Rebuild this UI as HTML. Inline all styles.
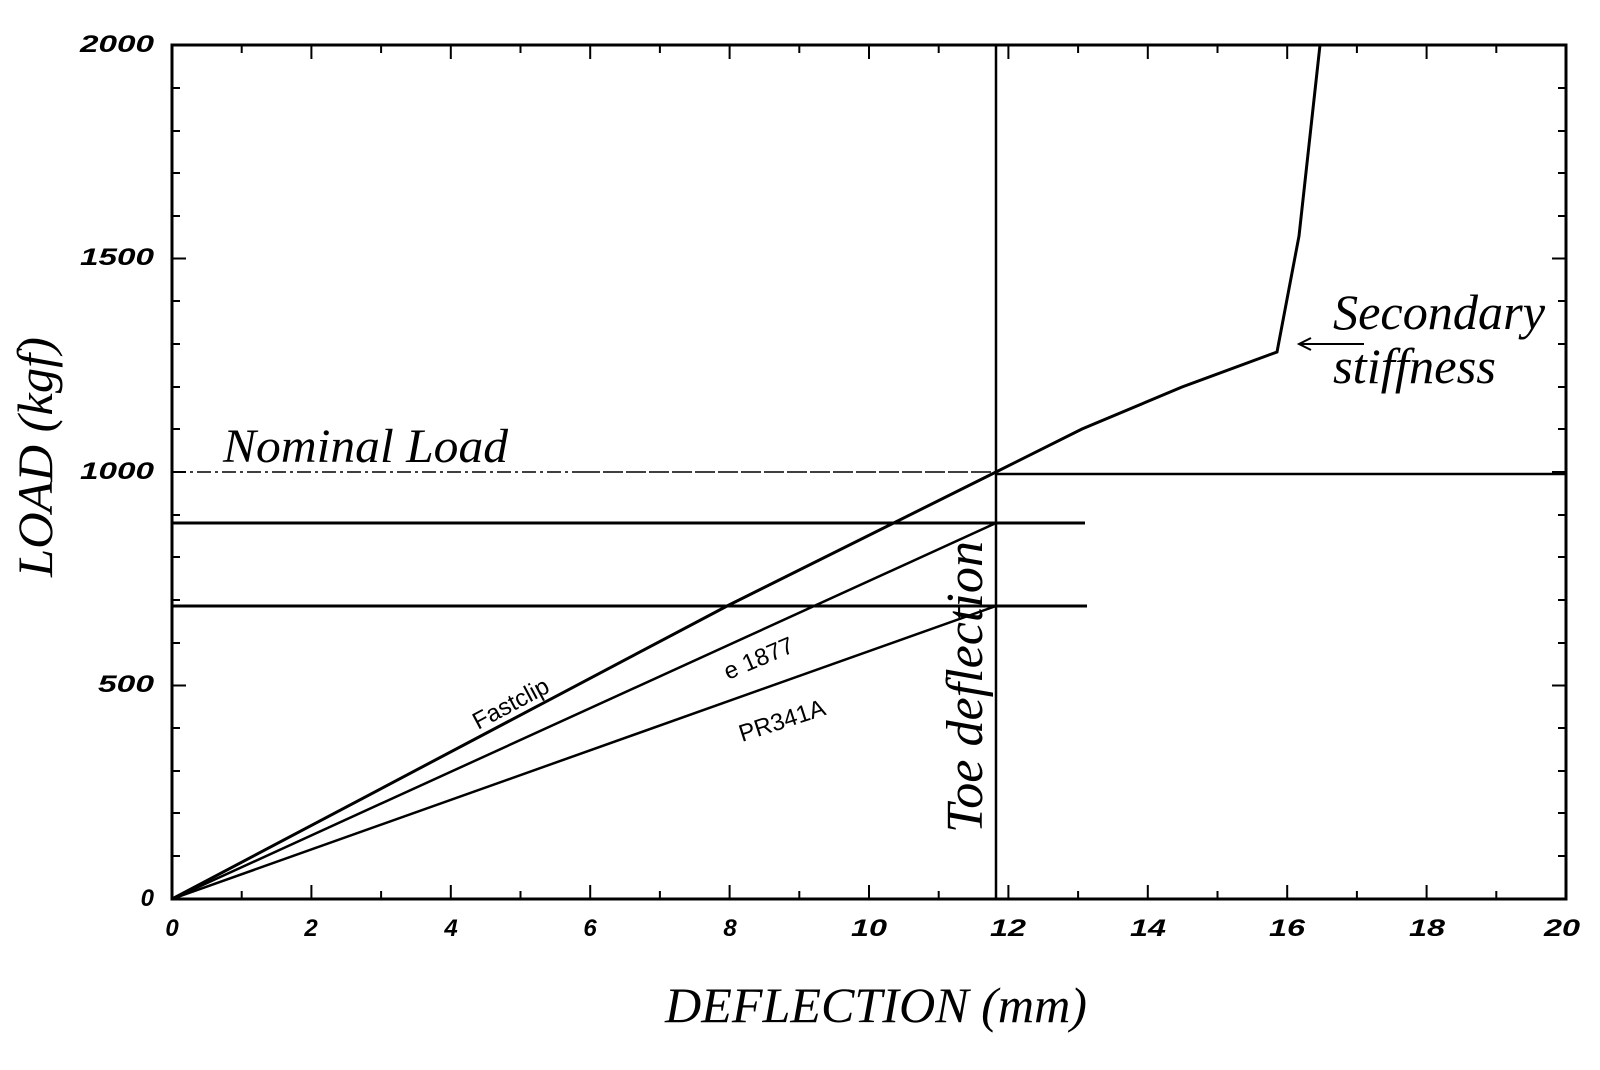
<!DOCTYPE html>
<html><head><meta charset="utf-8"><style>body{margin:0;background:#fff}svg{display:block}</style></head>
<body>
<svg width="1600" height="1070" viewBox="0 0 1600 1070" xmlns="http://www.w3.org/2000/svg">
<rect width="1600" height="1070" fill="#fff"/>
<g stroke="#000" fill="none">
<rect x="172" y="45" width="1394" height="854" stroke-width="3"/>
<g stroke-width="2">
<path d="M311.4 899v-14M450.8 899v-14M590.2 899v-14M729.6 899v-14M869 899v-14M1008.4 899v-14M1147.8 899v-14M1287.2 899v-14M1426.6 899v-14
M241.7 899v-8M381.1 899v-8M520.5 899v-8M659.9 899v-8M799.3 899v-8M938.7 899v-8M1078.1 899v-8M1217.5 899v-8M1356.9 899v-8M1496.3 899v-8
M311.4 45v14M450.8 45v14M590.2 45v14M729.6 45v14M869 45v14M1008.4 45v14M1147.8 45v14M1287.2 45v14M1426.6 45v14
M241.7 45v8M381.1 45v8M520.5 45v8M659.9 45v8M799.3 45v8M938.7 45v8M1078.1 45v8M1217.5 45v8M1356.9 45v8M1496.3 45v8"/>
<path d="M172 685.5h14M172 472h14M172 258.5h14
M172 856h8M172 813h8M172 771h8M172 728h8M172 643h8M172 600h8M172 557h8M172 515h8M172 429h8M172 387h8M172 344h8M172 301h8M172 216h8M172 173h8M172 131h8M172 88h8
M1566 685.5h-14M1566 472h-14M1566 258.5h-14
M1566 856h-8M1566 813h-8M1566 771h-8M1566 728h-8M1566 643h-8M1566 600h-8M1566 557h-8M1566 515h-8M1566 429h-8M1566 387h-8M1566 344h-8M1566 301h-8M1566 216h-8M1566 173h-8M1566 131h-8M1566 88h-8"/>
</g>
<path d="M172 472H580" stroke-width="1.5" stroke-dasharray="14 4 3 4"/>
<path d="M580 472H996" stroke-width="1.5" stroke-dasharray="20 3"/>
<path d="M996 474H1566" stroke-width="2.5"/>
<path d="M172 523H1085M172 606H1087" stroke-width="3"/>
<path d="M996 45V899" stroke-width="2.5"/>
<path d="M172 899L729 605L996 472L1082 429L1182 387L1277 352L1299 236L1320 45" stroke-width="3"/>
<path d="M172 899L996 523" stroke-width="2.5"/>
<path d="M172 899L996 606" stroke-width="2.5"/>
<path d="M1299 344H1364M1311 338L1299 344L1311 350" stroke-width="2"/>
</g>
<g font-family="Liberation Sans, sans-serif" font-style="italic" font-weight="bold" font-size="24" fill="#000">
<g text-anchor="middle">
<text x="172" y="936">0</text><text x="311" y="936">2</text><text x="451" y="936">4</text><text x="590" y="936">6</text><text x="730" y="936">8</text><text x="869" y="936" textLength="36" lengthAdjust="spacingAndGlyphs">10</text><text x="1008" y="936" textLength="36" lengthAdjust="spacingAndGlyphs">12</text><text x="1148" y="936" textLength="36" lengthAdjust="spacingAndGlyphs">14</text><text x="1287" y="936" textLength="36" lengthAdjust="spacingAndGlyphs">16</text><text x="1427" y="936" textLength="36" lengthAdjust="spacingAndGlyphs">18</text><text x="1562" y="936" textLength="36" lengthAdjust="spacingAndGlyphs">20</text>
</g>
<g text-anchor="end">
<text x="154" y="906">0</text><text x="154" y="692" textLength="56" lengthAdjust="spacingAndGlyphs">500</text><text x="154" y="479" textLength="74" lengthAdjust="spacingAndGlyphs">1000</text><text x="154" y="265" textLength="74" lengthAdjust="spacingAndGlyphs">1500</text><text x="154" y="52" textLength="74" lengthAdjust="spacingAndGlyphs">2000</text>
</g>
<g font-weight="normal" font-style="normal" font-size="24">
<text transform="translate(478 730) rotate(-28)">Fastclip</text>
<text transform="translate(728 680) rotate(-23)">e 1877</text>
<text transform="translate(742 742) rotate(-18)">PR341A</text>
</g>
</g>
<g font-family="Liberation Serif, serif" font-style="italic" fill="#000">
<text x="223" y="462" font-size="48" textLength="285" lengthAdjust="spacingAndGlyphs">Nominal Load</text>
<text transform="translate(982 833) rotate(-90)" font-size="52" textLength="292" lengthAdjust="spacingAndGlyphs">Toe deflection</text>
<text x="1333" y="329" font-size="50" textLength="212" lengthAdjust="spacingAndGlyphs">Secondary</text>
<text x="1333" y="383" font-size="50" textLength="163" lengthAdjust="spacingAndGlyphs">stiffness</text>
<text x="876" y="1022" font-size="50" text-anchor="middle" textLength="422" lengthAdjust="spacingAndGlyphs">DEFLECTION (mm)</text>
<text transform="translate(52 457) rotate(-90)" font-size="50" text-anchor="middle" textLength="240" lengthAdjust="spacingAndGlyphs">LOAD (kgf)</text>
</g>
</svg>
</body></html>
